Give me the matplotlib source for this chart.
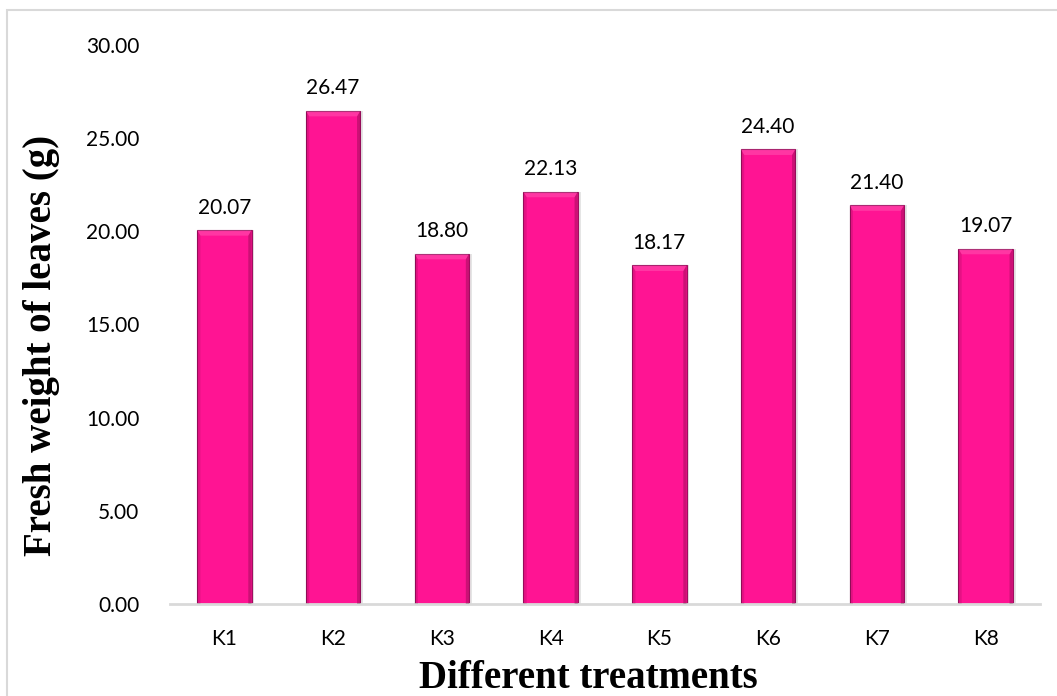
import matplotlib
matplotlib.use("Agg")
import matplotlib.pyplot as plt
from matplotlib.patches import Rectangle, Polygon

# ---------------- DATA ----------------
treatments = ["K1", "K2", "K3", "K4", "K5", "K6", "K7", "K8"]
fresh_weight = [20.07, 26.47, 18.80, 22.13, 18.17, 24.40, 21.40, 19.07]
y_ticks = [0, 5, 10, 15, 20, 25, 30]

# ---------------- STYLE ----------------
BAR_COLOR = "#FF1493"
EDGE_COLOR = "#A00E60"
AXIS_GRAY = "#D9D9D9"
TICK_FONT = "Lato"
TITLE_FONT = "Liberation Serif"
BAR_W = 0.5

W, H = 1057, 696
fig = plt.figure(figsize=(W / 100, H / 100), dpi=100)
ax = fig.add_axes([170 / W, 1 - 604 / H, (1040 - 170) / W, (604 - 45) / H])

# outer chart border
fig.patches.append(Rectangle((7 / W, -0.05), 1.2, 1 - 10 / H + 0.05,
                             transform=fig.transFigure, fill=False,
                             edgecolor=AXIS_GRAY, linewidth=1.5))

x = range(len(treatments))
# soft shadow behind bars
ax.bar([i + 0.025 for i in x], fresh_weight, width=BAR_W, color="#000000",
       alpha=0.10, zorder=1)
bars = ax.bar(x, fresh_weight, width=BAR_W, color=BAR_COLOR,
              edgecolor=EDGE_COLOR, linewidth=0.8, zorder=2)

# bevel look: darker sides, lighter top
bx, by = 0.03, 0.3
for rect in bars:
    x0, w, h = rect.get_x(), rect.get_width(), rect.get_height()
    x1 = x0 + w
    ax.add_patch(Polygon([(x0, 0), (x0 + bx, 0), (x0 + bx, h - by), (x0, h)],
                         closed=True, color="#000000", alpha=0.10, lw=0, zorder=3))
    ax.add_patch(Polygon([(x1, 0), (x1 - bx, 0), (x1 - bx, h - by), (x1, h)],
                         closed=True, color="#000000", alpha=0.20, lw=0, zorder=3))
    ax.add_patch(Polygon([(x0, h), (x1, h), (x1 - bx, h - by), (x0 + bx, h - by)],
                         closed=True, color="#FFFFFF", alpha=0.15, lw=0, zorder=3))

for rect, val in zip(bars, fresh_weight):
    ax.annotate(f"{val:.2f}", (rect.get_x() + rect.get_width() / 2, val),
                xytext=(0, 9), textcoords="offset points",
                ha="center", va="bottom", fontsize=15, family=TICK_FONT)

ax.set_xlim(-0.5, len(treatments) - 0.5)
ax.set_ylim(0, 30)
ax.set_yticks(y_ticks)
ax.set_yticklabels([f"{t:.2f}" for t in y_ticks], family=TICK_FONT, fontsize=15)
ax.set_xticks(list(x))
ax.set_xticklabels(treatments, family=TICK_FONT, fontsize=15)
ax.tick_params(axis="both", length=0)
ax.tick_params(axis="x", pad=18)
ax.tick_params(axis="y", pad=22)

for side in ["top", "right", "left"]:
    ax.spines[side].set_visible(False)
ax.spines["bottom"].set_color(AXIS_GRAY)
ax.spines["bottom"].set_linewidth(2)

fig.text(588 / W, 1 - 688 / H, "Different treatments", ha="center", va="baseline",
         family=TITLE_FONT, fontweight="bold", fontsize=28)
fig.text(42 / W, 1 - 345 / H, "Fresh weight of leaves (g)", ha="center", va="center",
         rotation=90, family=TITLE_FONT, fontweight="bold", fontsize=28)

fig.savefig("out.png", dpi=100)
